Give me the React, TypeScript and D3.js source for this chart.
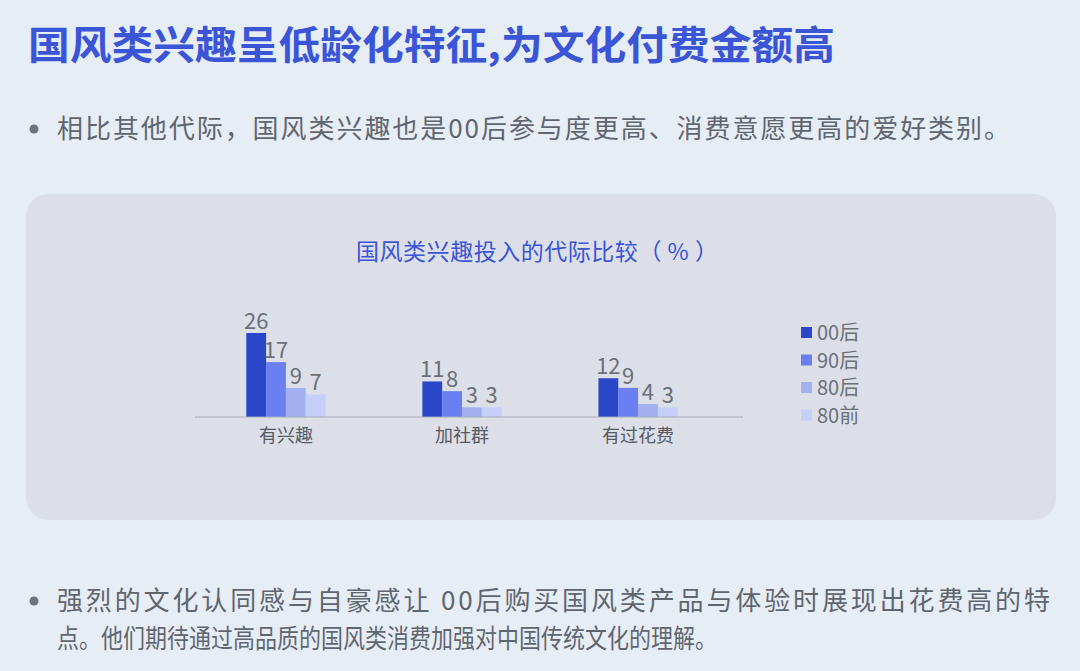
import React, { useEffect, useRef } from 'react';
import * as d3 from 'd3';

const categories = ["有兴趣", "加社群", "有过花费"];
const generations = ["00后", "90后", "80后", "80前"];
const values00 = [26, 11, 12];
const values90 = [17, 8, 9];
const values80 = [9, 3, 4];
const valuesPre80 = [7, 3, 3];
const seriesColors = ["#2a46c9", "#6a80f2", "#a2b0ef", "#c6cefa"];

const title = "国风类兴趣呈低龄化特征,为文化付费金额高";
const bullet1 = "相比其他代际，国风类兴趣也是00后参与度更高、消费意愿更高的爱好类别。";
const bullet2a = "强烈的文化认同感与自豪感让 00后购买国风类产品与体验时展现出花费高的特";
const bullet2b = "点。他们期待通过高品质的国风类消费加强对中国传统文化的理解。";
const chartTitle = "国风类兴趣投入的代际比较（ % ）";

const FONT = "'Noto Sans CJK SC', 'Noto Sans', sans-serif";

const App: React.FC = () => {
  const svgRef = useRef<SVGSVGElement>(null);

  useEffect(() => {
    if (!svgRef.current) return;
    const svg = d3.select(svgRef.current);
    svg.selectAll("*").remove();

    const width = 1080;
    const height = 671;

    svg.append("rect").attr("width", width).attr("height", height).attr("fill", "#e7edf5");

    // Heading
    svg.append("text")
      .attr("x", 28).attr("y", 59)
      .style("font-family", FONT).style("font-size", "39px").style("font-weight", "700")
      .attr("fill", "#3a55d6")
      .attr("textLength", 807).attr("lengthAdjust", "spacingAndGlyphs")
      .text(title);

    const grey = "#5f6670";
    const bullet = (y: number) =>
      svg.append("circle").attr("cx", 34).attr("cy", y).attr("r", 4.5).attr("fill", "#6b7280");

    bullet(129);
    svg.append("text")
      .attr("x", 57).attr("y", 138)
      .style("font-family", FONT).style("font-size", "26px")
      .attr("fill", grey)
      .attr("textLength", 953).attr("lengthAdjust", "spacing")
      .text(bullet1);

    bullet(601);
    svg.append("text")
      .attr("x", 57).attr("y", 610)
      .style("font-family", FONT).style("font-size", "26px")
      .attr("fill", grey)
      .attr("textLength", 993).attr("lengthAdjust", "spacing")
      .text(bullet2a);
    svg.append("text")
      .attr("x", 57).attr("y", 648)
      .style("font-family", FONT).style("font-size", "26px")
      .attr("fill", grey)
      .attr("textLength", 660).attr("lengthAdjust", "spacingAndGlyphs")
      .text(bullet2b);

    // Panel
    svg.append("rect")
      .attr("x", 26).attr("y", 194).attr("width", 1030).attr("height", 326)
      .attr("rx", 22).attr("fill", "#dcdfe7");

    svg.append("text")
      .attr("x", 537).attr("y", 260)
      .attr("text-anchor", "middle")
      .style("font-family", FONT).style("font-size", "23px")
      .attr("fill", "#3a55d6")
      .attr("textLength", 362).attr("lengthAdjust", "spacing")
      .text(chartTitle);

    // Chart
    const series = [values00, values90, values80, valuesPre80];
    const x0 = d3.scaleBand().domain(categories).range([197, 727]).paddingInner(0.55).paddingOuter(0.28);
    const x1 = d3.scaleBand().domain(generations).range([0, x0.bandwidth()]);
    const y = d3.scaleLinear().domain([0, 26]).range([417, 333]);

    const g = svg.append("g");
    categories.forEach((cat, ci) => {
      generations.forEach((gen, si) => {
        const v = series[si][ci];
        const bx = (x0(cat) ?? 0) + (x1(gen) ?? 0);
        g.append("rect")
          .attr("x", bx).attr("y", y(v))
          .attr("width", x1.bandwidth()).attr("height", y(0) - y(v))
          .attr("fill", seriesColors[si]);
        g.append("text")
          .attr("x", bx + x1.bandwidth() / 2).attr("y", y(v) - 4)
          .attr("text-anchor", "middle")
          .style("font-family", FONT).style("font-size", "22px")
          .attr("fill", "#6b7079")
          .text(v);
      });
    });

    const axis = svg.append("g")
      .attr("transform", `translate(0,${y(0)})`)
      .call(d3.axisBottom(x0).tickSize(0).tickPadding(12));
    axis.select(".domain").attr("stroke", "#a8acb6").attr("d", "M195,0H743");
    axis.selectAll("text")
      .style("font-family", FONT).style("font-size", "18px")
      .attr("fill", "#555a63");

    // Legend
    const legend = svg.append("g").attr("transform", "translate(801,333)");
    generations.forEach((gen, i) => {
      const row = legend.append("g").attr("transform", `translate(0,${i * 27.5})`);
      row.append("rect").attr("x", 0).attr("y", -6).attr("width", 11).attr("height", 11).attr("fill", seriesColors[i]);
      row.append("text")
        .attr("x", 16).attr("y", 0).attr("dy", "0.35em")
        .style("font-family", FONT).style("font-size", "20px")
        .attr("fill", "#6b7079")
        .text(gen);
    });
  }, []);

  return (
    <div style={{ position: "absolute", left: 0, top: 0 }}>
      <svg ref={svgRef} width={1080} height={671} style={{ display: "block" }} />
    </div>
  );
};

export default App;
